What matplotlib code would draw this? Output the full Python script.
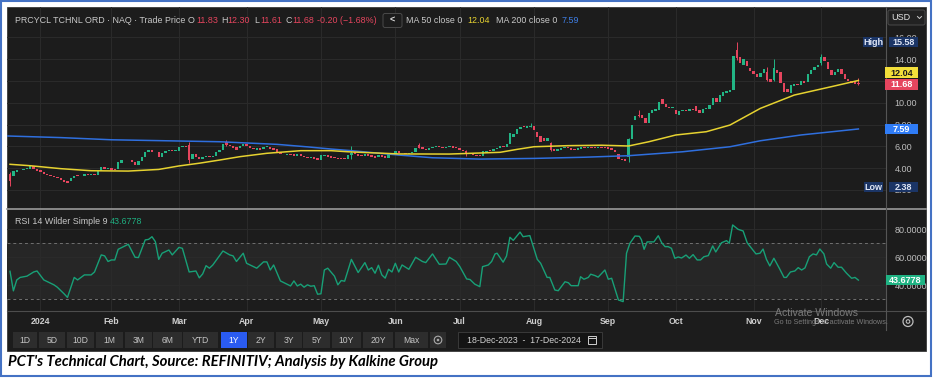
import matplotlib
matplotlib.use("Agg")
import matplotlib.pyplot as plt
from matplotlib.patches import Rectangle, FancyBboxPatch, Circle
import numpy as np
import pandas as pd

W, H = 933, 378
plt.rcParams['font.family'] = ['Liberation Sans', 'DejaVu Sans']

# ---------------- data ----------------
holidays = ['2023-12-25', '2024-01-01', '2024-01-15', '2024-02-19', '2024-03-29',
            '2024-05-27', '2024-06-19', '2024-07-04', '2024-09-02', '2024-11-28']
dates = pd.bdate_range('2023-12-18', '2024-12-17', freq='C', holidays=holidays)

opens = [
    3.50, 3.30, 3.60, 3.80, 3.85, 3.90, 3.90, 4.15, 3.95,                      # Dec 23
    3.80, 3.60, 3.45, 3.40, 3.30, 3.20, 3.05, 2.90, 2.80, 2.80, 3.10,          # Jan
    3.35, 3.25, 3.30, 3.45, 3.40, 3.45, 3.40, 3.70, 4.10, 3.95,
    4.00, 3.90, 3.90, 4.50, 4.70, 4.75, 4.75, 4.55, 4.30, 4.65,                # Feb
    5.00, 5.50, 5.65, 5.50, 5.45, 5.00, 5.40, 5.60, 5.65, 5.55,
    5.60, 5.95, 6.00, 6.10, 4.80, 5.30, 5.00, 4.85, 5.00, 5.10,                # Mar
    5.00, 5.10, 5.45, 5.70, 6.40, 6.10, 6.00, 5.90, 5.80, 6.00,
    6.20, 6.05, 5.85, 5.70, 5.85, 5.75, 5.90, 5.95, 5.80, 5.75, 5.50,          # Apr
    5.30, 5.20, 5.30, 5.25, 5.15, 5.25, 5.15, 5.05, 4.95, 5.05, 4.90,
    4.75, 5.10, 5.20, 5.10, 5.00, 4.95, 4.90, 4.90, 4.85, 5.20, 5.45,          # May
    5.30, 5.20, 5.10, 5.25, 5.20, 5.10, 5.00, 5.20, 5.10, 4.95, 5.20,
    5.30, 5.55, 5.35, 5.40, 5.30, 5.35, 5.45, 6.10, 5.90, 5.75,                # Jun
    5.70, 5.85, 5.90, 6.00, 5.95, 5.80, 5.90, 6.00, 5.90,
    5.85, 5.70, 5.60, 5.35, 5.30, 5.20, 5.20, 5.15, 5.50, 5.65, 5.55,          # Jul
    5.75, 5.80, 6.00, 5.95, 6.20, 6.90, 7.15, 7.60, 7.85, 7.70, 7.80,
    7.90, 7.30, 6.95, 6.80, 6.50, 6.30, 5.75, 5.60, 5.70, 5.80, 5.90,          # Aug
    5.85, 5.75, 5.65, 5.75, 5.95, 5.85, 5.95, 5.90, 5.85, 5.95, 5.90,
    5.95, 5.80, 5.70, 5.30, 4.85, 4.80, 5.00, 6.70, 8.40, 8.90,                # Sep
    8.90, 8.60, 8.15, 9.10, 9.25, 9.30, 10.30, 9.90, 9.65, 9.50,
    9.35, 8.90, 9.20, 9.35, 9.25, 9.40, 9.70, 9.30, 9.10, 9.40, 9.45, 9.80,    # Oct
    10.40, 10.10, 10.60, 10.90, 11.00, 11.20, 14.80, 14.20, 13.50, 13.80, 13.20,
    12.90, 12.60, 12.35, 12.70, 12.80, 12.20, 12.10, 13.00, 12.80, 11.80,      # Nov
    11.30, 10.90, 11.50, 11.75, 11.60, 12.00, 11.90, 12.60, 13.00, 13.30,
    13.60, 14.20, 13.70, 13.00, 12.50, 12.80, 13.10, 12.60, 12.20, 12.00,      # Dec
    11.95, 11.83,
]
closes = [
    2.80, 3.70, 3.80, 3.85, 3.90, 4.00, 4.20, 3.95, 3.75,
    3.60, 3.45, 3.40, 3.30, 3.20, 3.10, 2.90, 2.75, 2.65, 3.10, 3.30,
    3.25, 3.30, 3.45, 3.40, 3.45, 3.40, 3.70, 4.10, 3.95, 4.00,
    3.85, 3.85, 4.55, 4.70, 4.75, 4.70, 4.55, 4.30, 4.65, 5.00,
    5.50, 5.65, 5.50, 5.45, 5.00, 5.40, 5.60, 5.65, 5.55, 5.60,
    5.95, 6.00, 5.90, 4.70, 5.30, 5.00, 4.85, 5.00, 5.10, 5.00,
    5.10, 5.45, 5.70, 6.20, 6.10, 6.00, 5.80, 5.70, 6.00, 6.20,
    6.05, 5.80, 5.75, 5.85, 5.70, 5.95, 6.00, 5.75, 5.70, 5.50, 5.30,
    5.25, 5.30, 5.20, 5.15, 5.25, 5.10, 5.05, 4.95, 5.05, 4.85, 4.75,
    5.20, 5.20, 5.05, 4.95, 4.90, 4.85, 4.85, 4.80, 5.20, 5.40, 5.30,
    5.15, 5.10, 5.25, 5.15, 5.05, 4.95, 5.20, 5.05, 4.90, 5.25, 5.35,
    5.55, 5.35, 5.40, 5.30, 5.40, 5.45, 5.85, 5.85, 5.75, 5.70,
    5.85, 5.95, 6.05, 5.90, 5.80, 5.95, 6.00, 5.85, 5.80,
    5.70, 5.55, 5.30, 5.25, 5.20, 5.15, 5.10, 5.55, 5.60, 5.55, 5.75,
    5.80, 6.00, 5.95, 6.20, 7.20, 7.15, 7.60, 7.80, 7.75, 7.85, 7.90,
    7.50, 6.90, 6.40, 6.50, 6.75, 5.65, 5.60, 5.75, 5.85, 5.90, 5.80,
    5.70, 5.65, 5.80, 5.95, 5.85, 5.95, 5.85, 5.85, 5.95, 5.85, 5.85,
    5.75, 5.70, 5.50, 4.85, 4.75, 4.65, 6.70, 8.00, 8.80, 8.80,
    8.60, 8.10, 9.10, 9.30, 9.40, 10.10, 9.90, 9.60, 9.50, 9.60,
    8.95, 9.20, 9.30, 9.25, 9.40, 9.30, 9.20, 9.05, 9.45, 9.50, 9.80, 10.40,
    10.10, 10.70, 11.00, 11.10, 11.20, 14.30, 14.10, 13.60, 14.05, 13.40, 12.90,
    12.65, 12.35, 12.70, 13.10, 12.10, 11.90, 13.20, 12.70, 11.80, 11.00,
    11.00, 11.60, 11.70, 11.60, 12.00, 11.80, 12.60, 13.00, 13.30, 13.50,
    14.15, 13.80, 13.10, 12.50, 12.80, 13.10, 12.60, 12.20, 11.95, 11.85,
    11.75, 11.68,
]
wick_idx = [0, 53, 64, 101, 121, 135, 154, 160, 183, 186, 215, 224, 226, 240, 251]
wick_hi = [3.60, 6.40, 6.60, 6.00, 6.30, 5.65, 8.10, 6.40, 6.80, 9.30, 15.58, 13.30, 14.00, 14.50, 12.30]
wick_lo = [2.38, 4.50, 6.00, 4.80, 5.80, 5.10, 7.75, 5.55, 4.60, 8.70, 13.90, 12.00, 12.00, 13.50, 11.61]

ma50_idx = [0, 6, 15, 24, 35, 44, 50, 56, 62, 68, 76, 86, 95, 100, 115, 130, 145,
            150, 155, 165, 175, 183, 189, 197, 206, 213, 222, 232, 243, 251]
ma50_val = [4.35, 4.22, 3.95, 3.76, 3.73, 3.88, 4.20, 4.45, 4.74, 5.05, 5.36, 5.60, 5.60,
            5.50, 5.30, 5.29, 5.45, 5.72, 5.96, 6.06, 6.10, 6.03, 6.42, 7.04, 7.34, 7.95,
            9.48, 10.70, 11.47, 12.04]
ma200_idx = [-1, 15, 30, 62, 79, 88, 95, 101, 115, 125, 139, 155, 170, 183, 199,
             213, 222, 234, 251]
ma200_val = [6.95, 6.80, 6.60, 6.42, 6.18, 5.95, 5.75, 5.60, 5.20, 4.95, 4.83, 4.89,
             5.00, 5.14, 5.50, 5.96, 6.51, 7.04, 7.59]

# RSI readings as (trading-day position, value)
rsi_points = [
    (0, 50.0), (1, 36.0), (2, 43.8), (3, 45.6), (5, 46.5), (7, 49.5), (8, 50.2), (10, 43.8),
    (13, 40.3), (14, 38.6), (16, 33.9), (17, 31.3), (19, 45.6), (20, 43.8), (22, 47.4),
    (24, 47.4), (25, 49.5), (27, 61.7), (28, 61.0), (29, 57.0), (30, 58.1), (31, 58.1),
    (32, 65.7), (33, 66.9), (35, 69.3), (37, 60.0), (38, 59.8), (40, 72.4), (41, 72.8),
    (42, 74.7), (43, 71.2), (44, 58.5), (45, 62.9), (47, 65.2), (48, 61.7), (50, 67.1),
    (51, 66.4), (53, 49.5), (55, 50.2), (56, 45.3), (57, 48.1), (58, 54.0), (59, 52.2),
    (60, 54.5), (63, 64.5), (65, 61.7), (66, 61.0), (67, 57.0), (69, 62.9), (70, 55.7),
    (73, 52.2), (75, 56.7), (76, 56.7), (77, 50.9), (78, 54.5), (80, 43.1), (83, 39.5),
    (84, 43.1), (85, 39.5), (86, 40.8), (87, 38.6), (88, 40.3), (89, 39.3), (90, 39.7),
    (91, 33.6), (92, 33.9), (93, 50.9), (94, 52.2), (96, 46.5), (97, 40.3), (98, 43.4),
    (99, 42.9), (101, 58.5), (103, 49.1), (105, 56.2), (106, 50.9), (107, 52.6), (108, 48.6),
    (109, 54.3), (110, 47.4), (111, 45.1), (112, 51.4), (113, 49.5), (114, 55.7), (115, 49.5),
    (116, 54.5), (118, 51.4), (120, 60.0), (122, 57.0), (123, 56.2), (125, 62.4), (127, 55.0),
    (129, 55.2), (130, 60.0), (132, 57.0), (133.1, 53.3), (135.1, 44.5), (136.1, 44.1),
    (137.5, 40.8), (139, 39.0), (139.8, 53.3), (141.5, 54.5), (142.5, 57.0), (143.5, 62.4),
    (144.1, 62.9), (145.9, 56.5), (146.9, 60.9), (147.9, 74.3), (148.9, 72.1), (150.9, 78.0),
    (151.8, 74.7), (153.8, 75.5), (156, 58.5), (157, 55.7), (158.9, 45.6), (159.7, 45.6),
    (161.2, 36.6), (162.2, 36.1), (164.2, 42.5), (165.2, 41.8), (166, 39.7), (168.1, 39.7),
    (168.8, 46.1), (169.8, 44.3), (171.1, 45.6), (171.8, 47.9), (173.1, 46.9), (174, 45.8),
    (176, 50.9), (177, 44.3), (178, 45.0), (180, 29.5), (181.4, 28.3), (182.4, 62.9),
    (183.4, 70.0), (184.9, 75.2), (186.2, 75.0), (186.8, 72.6), (187.6, 65.7), (188.5, 71.0),
    (190.5, 71.0), (191.8, 75.4), (192.8, 70.4), (193.8, 67.6), (194.7, 67.6), (195.7, 66.4),
    (196.7, 59.3), (197.7, 60.2), (198.7, 59.5), (200, 61.6), (201, 59.3), (202.1, 61.9),
    (203.3, 58.1), (204.3, 58.1), (205.3, 60.4), (206.6, 61.2), (207.9, 68.1), (208.8, 63.8),
    (210.5, 70.4), (212, 71.9), (212.8, 70.0), (213.8, 83.1), (215.4, 80.0), (216.9, 78.8),
    (218.1, 70.4), (219.4, 66.4), (220.7, 62.4), (221.9, 62.9), (222.8, 65.9), (223.8, 58.5),
    (224.8, 53.8), (226, 59.3), (227.6, 52.2), (229, 45.6), (229.7, 45.6), (230.9, 49.5),
    (232.2, 50.2), (233.2, 52.6), (234.2, 50.9), (235.2, 52.4), (236.5, 60.4), (237.6, 62.4),
    (238.6, 61.7), (239.6, 65.9), (240.8, 62.4), (241.6, 55.2), (242.8, 52.2), (243.8, 56.2),
    (245, 52.9), (246, 52.9), (247.5, 48.6), (249, 45.0), (250, 45.6), (251, 43.6778),
]
rsi_idx = [p[0] for p in rsi_points]
rsi_val = [p[1] for p in rsi_points]

price_ticks = [2, 4, 6, 8, 10, 12, 14, 16]
rsi_ticks = [40, 60, 80]
range_buttons = ['1D', '5D', '10D', '1M', '3M', '6M', 'YTD', '1Y', '2Y', '3Y', '5Y', '10Y', '20Y', 'Max']
selected_range = '1Y'

# ---------------- layout helpers ----------------
def frac(x0, y0, x1, y1):
    return [x0 / W, 1 - y1 / H, (x1 - x0) / W, (y1 - y0) / H]

BG = '#1c1c1c'
GRID = '#2a2a2a'
TXT = '#c9c9c9'
GREEN = '#22b585'
RED = '#e6455e'
YEL = '#e6d230'
BLUE = '#2f6fde'

fig = plt.figure(figsize=(W / 100, H / 100), dpi=100)
fig.patch.set_facecolor('white')

# background canvas in pixel coordinates
bg = fig.add_axes([0, 0, 1, 1])
bg.set_xlim(0, W)
bg.set_ylim(H, 0)
bg.axis('off')
bg.add_patch(Rectangle((1, 1), W - 3, H - 3, fc='white', ec='#4472c4', lw=1.5))
bg.add_patch(Rectangle((7, 7), 919, 344, fc=BG, ec='#3a3a3a', lw=0.6))

x = np.arange(len(closes))
o = np.array(opens)
c = np.array(closes)
month_pos = [i for i in range(1, len(dates)) if dates[i].month != dates[i - 1].month]
month_lab = ['2024' if dates[i].month == 1 else dates[i].strftime('%b') for i in month_pos]

xl = (-0.89, 259.17)

# ---------------- price panel ----------------
ax = fig.add_axes(frac(7, 7, 886, 209))
ax.set_facecolor('none')
ax.set_xlim(*xl)
ax.set_ylim(0.25, 18.78)
ax.set_yticks(price_ticks)
# 12.00 sits fully under the MA50 / close tags, so its label is left blank
ax.set_yticklabels(['' if t == 12 else '%.2f' % t for t in price_ticks])
ax.set_xticks(month_pos)
ax.yaxis.tick_right()
ax.tick_params(axis='y', length=0, pad=6, labelsize=6.5, labelcolor='#bdbdbd')
ax.tick_params(axis='x', length=0, labelbottom=False)
ax.grid(color=GRID, lw=0.8)
ax.set_axisbelow(True)
for s in ax.spines.values():
    s.set_visible(False)

up = c >= o
cols = np.where(up, GREEN, RED)
ax.vlines(np.array(wick_idx), wick_lo, wick_hi, colors=[cols[i] for i in wick_idx], lw=0.7, zorder=3)
ax.bar(x, np.maximum(np.abs(c - o), 0.07), bottom=np.minimum(o, c), width=0.7,
       color=cols, lw=0, zorder=4)
ax.plot(ma200_idx, ma200_val, color=BLUE, lw=1.1, zorder=5)
ax.plot(ma50_idx, ma50_val, color=YEL, lw=1.1, zorder=5)

# ---------------- RSI panel ----------------
ax2 = fig.add_axes(frac(7, 210, 886, 311))
ax2.set_facecolor('none')
ax2.set_xlim(*xl)
ax2.set_ylim(21.6, 93.8)
ax2.axhspan(30, 70, color='#262626', lw=0, zorder=0)
ax2.axhline(70, color='#707070', lw=0.7, ls=(0, (3, 3)), zorder=1)
ax2.axhline(30, color='#707070', lw=0.7, ls=(0, (3, 3)), zorder=1)
ax2.set_yticks(rsi_ticks)
ax2.set_yticklabels(['%.4f' % t for t in rsi_ticks])
ax2.yaxis.tick_right()
ax2.set_xticks(month_pos)
ax2.set_xticklabels(month_lab)
ax2.tick_params(axis='y', length=0, pad=6, labelsize=6.5, labelcolor='#bdbdbd')
ax2.tick_params(axis='x', length=0, pad=4.3, labelsize=6.3, labelcolor='#cfcfcf')
for lab in ax2.get_xticklabels():
    lab.set_fontweight('bold')
ax2.grid(color=GRID, lw=0.8)
ax2.set_axisbelow(True)
for s in ax2.spines.values():
    s.set_visible(False)
ax2.plot(rsi_idx, rsi_val, color='#18a077', lw=1.0, zorder=4)

# ---------------- overlay: labels, header, toolbar ----------------
ov = fig.add_axes([0, 0, 1, 1])
ov.set_facecolor('none')
ov.set_xlim(0, W)
ov.set_ylim(H, 0)
ov.axis('off')


def ypix(a, v):
    return H - a.transData.transform((0, v))[1]


def tag(x0, x1, yc, h, fc, text, tc='white', bold=True, size=6.5):
    ov.add_patch(Rectangle((x0, yc - h / 2), x1 - x0, h, fc=fc, ec='none', zorder=5))
    ov.text((x0 + x1) / 2, yc + 0.5, text, color=tc, ha='center', va='center', size=size,
            fontweight='bold' if bold else 'normal', zorder=6)


# separators and axis line
ov.plot([7, 926], [209, 209], color='#9a9a9a', lw=1.2)
ov.plot([7, 926], [311, 311], color='#4d4d4d', lw=0.8)
ov.plot([886, 886], [7, 330], color='#555555', lw=0.8)

# price tags
NAVY = '#1b3566'
yh = ypix(ax, max(wick_hi))
tag(863, 883, yh, 10, NAVY, 'High', '#dfe6f5')
tag(889, 918, yh, 10, NAVY, '%.2f' % max(wick_hi), '#dfe6f5')
yl = ypix(ax, min(wick_lo)) + 1
tag(864, 883, yl, 10, NAVY, 'Low', '#dfe6f5')
tag(889, 918, yl, 10, NAVY, '%.2f' % min(wick_lo), '#dfe6f5')
yc_close = ypix(ax, closes[-1])
tag(885, 918, yc_close, 11, RED, '%.2f' % closes[-1])
tag(885, 918, yc_close - 11.5, 11, '#f3df3a', '%.2f' % ma50_val[-1], '#1a1a1a')
tag(885, 918, ypix(ax, ma200_val[-1]), 10, '#2f7cf6', '%.2f' % ma200_val[-1])
tag(886, 925, ypix(ax2, rsi_val[-1]), 10, '#1fb383', '%.4f' % rsi_val[-1])

# header
hy = 20.5
hs = 6.4
ov.text(15, hy, 'PRCYCL TCHNL ORD \u00b7 NAQ \u00b7 Trade Price', color=TXT, size=hs, va='center')
hdr = [(188, 'O', TXT), (196, '%.2f' % opens[-1], RED), (221, 'H', TXT), (227, '%.2f' % wick_hi[-1], RED),
       (254, 'L', TXT), (260, '%.2f' % wick_lo[-1], RED), (285, 'C', TXT), (292, '%.2f' % closes[-1], RED)]
for hx, t, col in hdr:
    ov.text(hx, hy, t, color=col, size=hs, va='center')
ov.text(317, hy, '-0.20 (\u22121.68%)', color=RED, size=hs, va='center')
ov.add_patch(FancyBboxPatch((383, 13.5), 19, 14, boxstyle='round,pad=0,rounding_size=2',
                            fc=BG, ec='#4a4a4a', lw=0.7))
ov.text(392.5, hy, '<', color='#e0e0e0', size=6.5, ha='center', va='center', fontweight='bold')
ov.text(406, hy, 'MA 50 close 0', color=TXT, size=hs, va='center')
ov.text(467, hy, '%.2f' % ma50_val[-1], color=YEL, size=hs, va='center')
ov.text(496, hy, 'MA 200 close 0', color=TXT, size=hs, va='center')
ov.text(562, hy, '%.2f' % ma200_val[-1], color='#3f7fe6', size=hs, va='center')

# USD selector
ov.add_patch(FancyBboxPatch((888, 10), 37, 15, boxstyle='round,pad=0,rounding_size=2',
                            fc='#222222', ec='#4a4a4a', lw=0.7))
ov.text(891, 17.5, 'USD', color='#e6e6e6', size=6.5, va='center')
ov.plot([917.5, 919.5, 921.5], [16.5, 18.5, 16.5], color='#cfcfcf', lw=0.7)

# RSI header
ov.text(15, 221, 'RSI 14 Wilder Simple 9', color=TXT, size=hs, va='center')
ov.text(110, 221, '%.4f' % rsi_val[-1], color='#1fae80', size=hs, va='center')

# toolbar buttons
btn_x = [(13, 37), (39, 65), (67, 94), (96, 123), (125, 152), (153, 182), (183, 218),
         (221, 247), (248, 274), (276, 302), (303, 330), (332, 361), (363, 393), (395, 428)]
for (b0, b1), lab in zip(btn_x, range_buttons):
    sel = lab == selected_range
    ov.add_patch(Rectangle((b0, 332), b1 - b0, 16, fc='#2a5bf0' if sel else '#2d2d2d', ec='none'))
    ov.text((b0 + b1) / 2, 340.5, lab, color='white' if sel else '#c4c4c4', size=6.2,
            ha='center', va='center')
ov.add_patch(Rectangle((430, 332), 16, 16, fc='#2d2d2d', ec='none'))
ov.add_patch(Circle((438, 340), 3.8, fc='none', ec='#aaaaaa', lw=0.8))
ov.add_patch(Circle((438, 340), 1.3, fc='#aaaaaa', ec='none'))

# date range box
ov.add_patch(Rectangle((458, 332), 144, 16, fc='#141414', ec='#3a3a3a', lw=0.7))
ov.text(467, 340.5, '%s  -  %s' % ('18-Dec-2023', '17-Dec-2024'), color='#d2d2d2',
        size=6.3, va='center')
ov.add_patch(Rectangle((588, 336), 8, 8, fc='none', ec='#cfcfcf', lw=0.7))
ov.plot([588, 596], [338.3, 338.3], color='#cfcfcf', lw=0.7)

# settings icon and watermark
ov.add_patch(Circle((908, 321.5), 5, fc='none', ec='#bdbdbd', lw=0.9))
ov.add_patch(Circle((908, 321.5), 1.8, fc='none', ec='#bdbdbd', lw=0.8))
ov.text(775, 312.5, 'Activate Windows', color='#7a7a7a', size=7.6, va='center')
ov.text(774, 322.5, 'Go to Settings to activate Windows.', color='#7a7a7a', size=5.2, va='center')

# caption
fig.text(8 / W, 1 - 362 / H, "PCT's Technical Chart, Source: REFINITIV; Analysis by Kalkine Group",
         family=['Lato', 'Liberation Sans'], fontweight='bold', fontstyle='italic',
         size=10.7, color='black', va='center')

fig.savefig('out.png', dpi=100, facecolor='white')
